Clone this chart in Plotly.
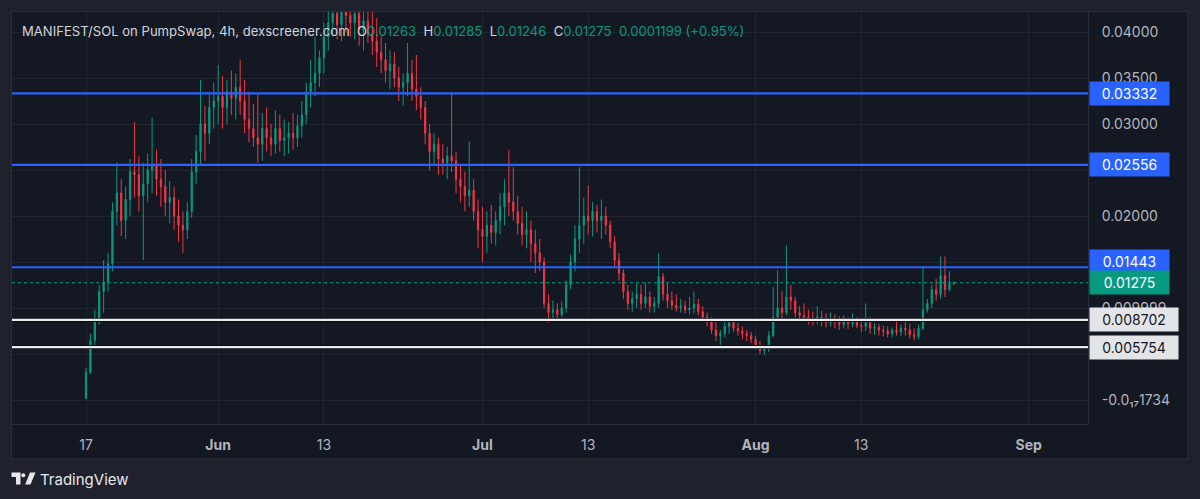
import pandas as pd
import plotly.graph_objects as go

# ---------------- data (12h candles) ----------------
START = "2025-05-17 00:00"
FIRST_OPEN = 0.0002
closes = [
    0.0030, 0.0065, 0.0088, 0.0118, 0.0128, 0.0148, 0.0205, 0.0225, 0.0195, 0.0218,
    0.0248, 0.0245, 0.0222, 0.0235, 0.0250, 0.0255, 0.0240, 0.0232, 0.0215, 0.0220,
    0.0200, 0.0190, 0.0185, 0.0205, 0.0248, 0.0270, 0.0300, 0.0290, 0.0318, 0.0325,
    0.0330, 0.0318, 0.0335, 0.0328, 0.0340, 0.0325, 0.0305, 0.0295, 0.0285, 0.0278,
    0.0295, 0.0285, 0.0278, 0.0295, 0.0282, 0.0285, 0.0290, 0.0285, 0.0298, 0.0310,
    0.0335, 0.0345, 0.0355, 0.0372, 0.0395, 0.0410, 0.0420, 0.0408, 0.0425, 0.0418,
    0.0410, 0.0420, 0.0402, 0.0412, 0.0398, 0.0390, 0.0378, 0.0370, 0.0358, 0.0365,
    0.0350, 0.0340, 0.0345, 0.0355, 0.0338, 0.0330, 0.0318, 0.0290, 0.0270, 0.0278,
    0.0262, 0.0258, 0.0265, 0.0260, 0.0240, 0.0232, 0.0222, 0.0228, 0.0205, 0.0185,
    0.0178, 0.0190, 0.0182, 0.0195, 0.0210, 0.0225, 0.0215, 0.0205, 0.0192, 0.0180,
    0.0185, 0.0170, 0.0160, 0.0150, 0.0105, 0.0095, 0.0098, 0.0093, 0.0100, 0.0125,
    0.0150, 0.0175, 0.0190, 0.0200, 0.0195, 0.0205, 0.0195, 0.0200, 0.0190, 0.0172,
    0.0152, 0.0138, 0.0118, 0.0105, 0.0110, 0.0115, 0.0105, 0.0112, 0.0102, 0.0105,
    0.0134, 0.0115, 0.0108, 0.0103, 0.0100, 0.0102, 0.0098, 0.0100, 0.0104, 0.0096,
    0.0090, 0.0085, 0.0076, 0.0070, 0.0072, 0.0080, 0.0084, 0.0078, 0.0075, 0.0072,
    0.0070, 0.0066, 0.0058, 0.0054, 0.0056, 0.0070, 0.0090, 0.0100, 0.0095, 0.0112,
    0.0108, 0.0095, 0.0092, 0.0090, 0.0088, 0.0086, 0.0090, 0.0087, 0.0084, 0.0088,
    0.0085, 0.0082, 0.0086, 0.0083, 0.0087, 0.0081, 0.0080, 0.0084, 0.0078, 0.0079,
    0.0076, 0.0075, 0.0072, 0.0076, 0.0074, 0.0078, 0.0076, 0.0071, 0.0069, 0.0078,
    0.0098, 0.0105, 0.0120, 0.0115, 0.0135, 0.0120, 0.01263, 0.01275,
]
highs = [
    0.0035, 0.0072, 0.0098, 0.0125, 0.0152, 0.0160, 0.0215, 0.0258, 0.0240, 0.0232,
    0.0262, 0.0302, 0.0265, 0.0258, 0.0268, 0.0307, 0.0272, 0.0262, 0.0250, 0.0238,
    0.0232, 0.0218, 0.0205, 0.0215, 0.0262, 0.0288, 0.0348, 0.0320, 0.0335, 0.0345,
    0.0364, 0.0352, 0.0348, 0.0358, 0.0355, 0.0370, 0.0348, 0.0335, 0.0322, 0.0332,
    0.0312, 0.0318, 0.0300, 0.0315, 0.0310, 0.0305, 0.0302, 0.0312, 0.0310, 0.0325,
    0.0345, 0.0370, 0.0395, 0.0380, 0.0410, 0.0435, 0.0440, 0.0445, 0.0440, 0.0450,
    0.0445, 0.0438, 0.0440, 0.0430, 0.0435, 0.0428, 0.0415, 0.0395, 0.0388, 0.0380,
    0.0378, 0.0362, 0.0355, 0.0388, 0.0370, 0.0375, 0.0340, 0.0325, 0.0300, 0.0290,
    0.0285, 0.0278, 0.0275, 0.0335, 0.0270, 0.0255, 0.0248, 0.0281, 0.0240, 0.0218,
    0.0210, 0.0205, 0.0212, 0.0205, 0.0225, 0.0240, 0.0272, 0.0253, 0.0222, 0.0210,
    0.0205, 0.0195, 0.0185, 0.0175, 0.0155, 0.0115, 0.0108, 0.0105, 0.0107, 0.0130,
    0.0158, 0.0190, 0.0253, 0.0220, 0.0233, 0.0215, 0.0212, 0.0218, 0.0210, 0.0195,
    0.0178, 0.0160, 0.0142, 0.0125, 0.0118, 0.0127, 0.0125, 0.0127, 0.0118, 0.0112,
    0.0160, 0.0138, 0.0127, 0.0118, 0.0115, 0.0110, 0.0108, 0.0112, 0.0118, 0.0110,
    0.0102, 0.0095, 0.0090, 0.0085, 0.0076, 0.0085, 0.0088, 0.0087, 0.0084, 0.0080,
    0.0076, 0.0074, 0.0070, 0.0064, 0.0060, 0.0075, 0.0123, 0.0141, 0.0118, 0.0168,
    0.0125, 0.0112, 0.0102, 0.0105, 0.0098, 0.0096, 0.0102, 0.0097, 0.0094, 0.0095,
    0.0093, 0.0091, 0.0092, 0.0090, 0.0094, 0.0090, 0.0088, 0.0105, 0.0090, 0.0084,
    0.0083, 0.0081, 0.0080, 0.0079, 0.0085, 0.0082, 0.0087, 0.0083, 0.0078, 0.0082,
    0.0145, 0.0110, 0.0125, 0.0132, 0.0156, 0.0156, 0.0140, 0.01285,
]
lows = [
    0.0001, 0.0028, 0.0058, 0.0082, 0.0095, 0.0118, 0.0140, 0.0190, 0.0178, 0.0175,
    0.0200, 0.0220, 0.0205, 0.0152, 0.0215, 0.0225, 0.0222, 0.0210, 0.0200, 0.0192,
    0.0185, 0.0172, 0.0160, 0.0175, 0.0198, 0.0235, 0.0255, 0.0260, 0.0278, 0.0295,
    0.0300, 0.0295, 0.0300, 0.0310, 0.0305, 0.0310, 0.0290, 0.0280, 0.0275, 0.0258,
    0.0260, 0.0270, 0.0265, 0.0268, 0.0270, 0.0265, 0.0268, 0.0272, 0.0275, 0.0285,
    0.0300, 0.0318, 0.0330, 0.0340, 0.0355, 0.0380, 0.0395, 0.0392, 0.0390, 0.0400,
    0.0395, 0.0392, 0.0385, 0.0380, 0.0388, 0.0375, 0.0362, 0.0355, 0.0345, 0.0338,
    0.0340, 0.0325, 0.0320, 0.0330, 0.0325, 0.0315, 0.0305, 0.0278, 0.0250, 0.0255,
    0.0245, 0.0245, 0.0240, 0.0248, 0.0225, 0.0215, 0.0205, 0.0210, 0.0195, 0.0165,
    0.0150, 0.0160, 0.0170, 0.0168, 0.0180, 0.0190, 0.0200, 0.0195, 0.0180, 0.0168,
    0.0165, 0.0150, 0.0138, 0.0140, 0.0100, 0.0084, 0.0088, 0.0089, 0.0090, 0.0095,
    0.0120, 0.0140, 0.0160, 0.0170, 0.0180, 0.0178, 0.0182, 0.0175, 0.0180, 0.0165,
    0.0145, 0.0130, 0.0110, 0.0098, 0.0096, 0.0100, 0.0098, 0.0100, 0.0095, 0.0095,
    0.0100, 0.0108, 0.0100, 0.0098, 0.0096, 0.0095, 0.0094, 0.0093, 0.0094, 0.0092,
    0.0088, 0.0080, 0.0072, 0.0064, 0.0060, 0.0068, 0.0072, 0.0074, 0.0070, 0.0066,
    0.0064, 0.0062, 0.0055, 0.0050, 0.0049, 0.0052, 0.0068, 0.0085, 0.0087, 0.0092,
    0.0098, 0.0090, 0.0085, 0.0086, 0.0082, 0.0081, 0.0082, 0.0080, 0.0079, 0.0080,
    0.0078, 0.0076, 0.0078, 0.0077, 0.0079, 0.0078, 0.0074, 0.0075, 0.0072, 0.0071,
    0.0070, 0.0069, 0.0068, 0.0068, 0.0070, 0.0069, 0.0070, 0.0067, 0.0065, 0.0066,
    0.0076, 0.0095, 0.0100, 0.0108, 0.0110, 0.0112, 0.0118, 0.01246,
]
opens = [FIRST_OPEN] + closes[:-1]

level_values = [0.03332, 0.02556, 0.01443, 0.008702, 0.005754]
level_labels = ["0.03332", "0.02556", "0.01443", "0.008702", "0.005754"]
level_kinds = ["blue", "blue", "blue", "white", "white"]

# 0.02500 and 0.01500 sit fully behind price boxes in the reference (grid only)
y_tickvals = [0.04, 0.035, 0.03, 0.025, 0.02, 0.015, 0.01, 0.005, 0.0]
y_ticktext = ["0.04000", "0.03500", "0.03000", "", "0.02000", "",
              "0.009999", "0.005000", "-0.0\u2081\u20871734"]
x_tickvals = ["2025-05-17", "2025-06-01", "2025-06-13", "2025-07-01",
              "2025-07-13", "2025-08-01", "2025-08-13", "2025-09-01"]
x_ticktext = ["17", "<b>Jun</b>", "13", "<b>Jul</b>", "13", "<b>Aug</b>", "13", "<b>Sep</b>"]

header_title = "MANIFEST/SOL on PumpSwap, 4h, dexscreener.com"
header_change = "0.0001199 (+0.95%)"

# ---------------- style ----------------
W, H = 1200, 499
ML, MR, MT, MB = 12, 112, 12, 75
GREEN = "#089981"
RED = "#f23645"
BLUE = "#2962ff"
BG = "#141823"
OUTER = "#1f222d"
GRID = "#21252f"
BORDER = "#2a2e39"
TXT = "#b2b5be"
FONT = "Inter, Roboto, sans-serif"


def PX(x):
    return (x - ML) / (W - ML - MR)


def PY(y):
    return (H - MB - y) / (H - MT - MB)


times = pd.date_range(START, periods=len(closes), freq="12h")

fig = go.Figure()
fig.add_trace(go.Candlestick(
    x=times, open=opens, high=highs, low=lows, close=closes,
    increasing=dict(line=dict(color=GREEN, width=1), fillcolor=GREEN),
    decreasing=dict(line=dict(color=RED, width=1), fillcolor=RED),
    whiskerwidth=0, hoverinfo="skip", showlegend=False,
))

shapes = []
shapes.append(dict(type="rect", xref="paper", yref="paper", layer="below",
                   x0=PX(11.5), x1=PX(1188), y0=PY(459), y1=PY(11.5),
                   fillcolor=BG, line=dict(color=BORDER, width=1)))
shapes.append(dict(type="line", xref="paper", yref="y", x0=0, x1=1,
                   y0=closes[-1], y1=closes[-1],
                   line=dict(color=GREEN, width=1, dash="dot")))
for v, kind in zip(level_values, level_kinds):
    col = BLUE if kind == "blue" else "#e9eaee"
    if kind == "white":
        shapes.append(dict(type="line", xref="paper", yref="y", x0=0, x1=1, y0=v, y1=v,
                           line=dict(color="#0b0d12", width=4)))
    shapes.append(dict(type="line", xref="paper", yref="y", x0=0, x1=1, y0=v, y1=v,
                       line=dict(color=col, width=2.2)))


def path(points):
    return "M " + " L ".join(f"{PX(x):.5f},{PY(y):.5f}" for x, y in points) + " Z"


logo_col = "#e6e7ea"
shapes.append(dict(type="path", xref="paper", yref="paper",
                   path=path([(11.5, 472.5), (20.5, 472.5), (20.5, 484.5), (16, 484.5),
                              (16, 477), (11.5, 477)]),
                   fillcolor=logo_col, line=dict(width=0)))
shapes.append(dict(type="circle", xref="paper", yref="paper",
                   x0=PX(21.3), x1=PX(25.3), y0=PY(477.3), y1=PY(473.3),
                   fillcolor=logo_col, line=dict(width=0)))
shapes.append(dict(type="path", xref="paper", yref="paper",
                   path=path([(30, 472.5), (35.5, 472.5), (30.5, 484.5), (25.2, 484.5)]),
                   fillcolor=logo_col, line=dict(width=0)))

annotations = []
val = lambda s: f"<span style='color:{GREEN}'>{s}</span>"
header = (f"{header_title}&nbsp;&nbsp;O{val(f'{opens[-1]:.5f}')}&nbsp;&nbsp;"
          f"H{val(f'{highs[-1]:.5f}')}&nbsp;&nbsp;L{val(f'{lows[-1]:.5f}')}&nbsp;&nbsp;"
          f"C{val(f'{closes[-1]:.5f}')}&nbsp;&nbsp;{val(header_change)}")
annotations.append(dict(xref="paper", yref="paper", x=PX(20), y=PY(31),
                        xanchor="left", yanchor="middle", showarrow=False,
                        text=header, font=dict(family=FONT, size=13.1, color="#d1d4dc")))
annotations.append(dict(xref="paper", yref="paper", x=PX(38), y=PY(479),
                        xanchor="left", yanchor="middle", showarrow=False,
                        text="TradingView", font=dict(family=FONT, size=15, color="#e6e7ea")))


def price_box(v, text, bg, fg, width, yshift=0):
    annotations.append(dict(xref="paper", yref="y", x=1, y=v, xanchor="left",
                            yanchor="middle", xshift=1, yshift=yshift, showarrow=False,
                            text=text, bgcolor=bg, borderpad=3, width=width,
                            align="center",
                            font=dict(family=FONT, size=14, color=fg)))


for v, t, kind in zip(level_values, level_labels, level_kinds):
    if kind == "blue":
        price_box(v, t, BLUE, "white", 73, yshift=6 if t == "0.01443" else 0)
    else:
        price_box(v, t, "#e3e4e8", "#131722", 82)
price_box(closes[-1], f"{closes[-1]:.5f}", GREEN, "white", 73)

y_top = (400 - 12) / 9200
y_bot = (400 - 424) / 9200

fig.update_layout(
    width=W, height=H,
    margin=dict(l=ML, r=MR, t=MT, b=MB),
    paper_bgcolor=OUTER, plot_bgcolor=BG,
    font=dict(family=FONT, color=TXT),
    shapes=shapes, annotations=annotations,
    showlegend=False,
    boxgap=0.6,
    xaxis=dict(type="date", range=["2025-05-08 14:24", "2025-09-07 17:37"],
               tickvals=x_tickvals, ticktext=x_ticktext,
               tickfont=dict(family=FONT, size=14, color=TXT),
               showgrid=True, gridcolor=GRID, gridwidth=1, zeroline=False,
               showline=True, linecolor=BORDER, ticks="", ticklabelstandoff=8,
               rangeslider=dict(visible=False), fixedrange=True),
    yaxis=dict(side="right", range=[y_bot, y_top],
               tickvals=y_tickvals, ticktext=y_ticktext,
               tickfont=dict(family=FONT, size=14, color=TXT),
               showgrid=True, gridcolor=GRID, gridwidth=1, zeroline=False,
               showline=True, linecolor=BORDER, ticks="", ticklabelstandoff=10,
               fixedrange=True),
)

fig.write_html("out.html", config={"displayModeBar": False},
               post_script="document.body.style.margin='0';"
                           "document.body.style.background='#1f222d';")
